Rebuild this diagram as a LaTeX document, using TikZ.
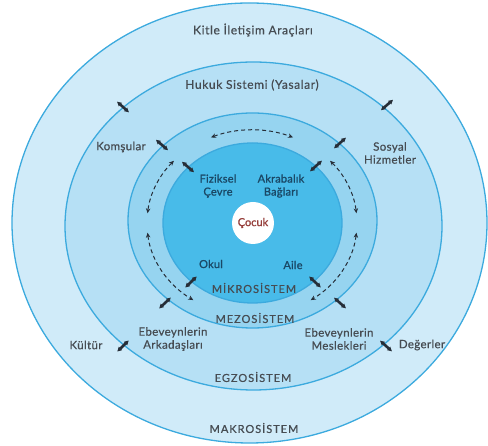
\documentclass[tikz,border=0pt]{standalone}
\usepackage{fontspec}
\setmainfont{Lato}
\usetikzlibrary{arrows.meta, calc}
\definecolor{makro}{RGB}{208, 235, 249}
\definecolor{egzo}{RGB}{182, 224, 245}
\definecolor{mezo}{RGB}{150, 212, 240}
\definecolor{mikro}{RGB}{72, 187, 233}
\definecolor{rim}{RGB}{60, 170, 222}
\definecolor{textgray}{RGB}{70, 76, 82}
\definecolor{textblue}{RGB}{26, 72, 102}
\definecolor{childred}{RGB}{150, 62, 58}
\definecolor{markdark}{RGB}{38, 46, 56}
\tikzstyle{ring}     = [draw=rim, line width=1.3pt]
\tikzstyle{outertxt} = [text=textgray, align=center, inner sep=0pt,
                        font=\fontsize{11.5}{13}\selectfont\addfontfeatures{LetterSpace=3, FakeBold=0.6}]
\tikzstyle{widetxt}  = [outertxt, font=\fontsize{12}{13}\selectfont\addfontfeatures{LetterSpace=5, FakeBold=0.6}]
\tikzstyle{innertxt} = [text=textblue, align=center, inner sep=0pt,
                        font=\fontsize{11}{13}\selectfont\addfontfeatures{LetterSpace=2, FakeBold=1.2}]
\tikzstyle{systxt}   = [text=textgray, inner sep=0pt,
                        font=\fontsize{11}{13}\selectfont\addfontfeatures{LetterSpace=9, FakeBold=0.6}]
\tikzstyle{bidir}    = [{Triangle[length=4.5pt, width=4.5pt]}-{Triangle[length=4.5pt, width=4.5pt]},
                        line width=2.6pt, draw=markdark]
\tikzstyle{dasharc}  = [{Stealth[length=5pt, width=4.5pt]}-{Stealth[length=5pt, width=4.5pt]},
                        dash pattern=on 4pt off 3pt, line width=1pt, draw=markdark]

\begin{document}
\begin{tikzpicture}[x=1pt, y=1pt]
  \useasboundingbox (-252,-223) rectangle (236,223);
  \coordinate (hub) at (0,0);

  % Systems, from outside in
  \draw [ring, fill=makro] (-2.5,0)  ellipse [x radius=237.5, y radius=220];
  \draw [ring, fill=egzo]  (1.5,-3)  ellipse [x radius=188.5, y radius=164];
  \draw [ring, fill=mezo]  (0.5,2.5) ellipse [x radius=124.5, y radius=107.5];
  \draw [ring, fill=mikro] (0.5,0)   ellipse [x radius=89.5,  y radius=80];
  \node (cocuk) [circle, fill=white, minimum size=42pt, inner sep=0pt, text=childred,
                 font=\fontsize{11}{13}\selectfont\addfontfeatures{FakeBold=1.2}] at (1,0) {Çocuk};

  % Labels
  \node (kitle) [widetxt] at (1,193)    {Kitle İletişim Araçları};
  \node (hukuk) [widetxt] at (0,138)    {Hukuk Sistemi (Yasalar)};
  \node (komsu) [outertxt] at (-131,76) {Komşular};
  \node (sosyal) [outertxt] at (138,70) {Sosyal\\Hizmetler};
  \node (fiz)   [innertxt] at (-34,37)  {Fiziksel\\Çevre};
  \node (akr)   [innertxt] at (29,37)   {Akrabalık\\Bağları};
  \node (okul)  [innertxt] at (-41,-41) {Okul};
  \node (aile)  [innertxt] at (41,-42)  {Aile};
  \node (ebark) [outertxt] at (-79,-116) {Ebeveynlerin\\Arkadaşları};
  \node (kultur) [outertxt] at (-166,-122) {Kültür};
  \node (ebmes) [outertxt] at (87,-116) {Ebeveynlerin\\Meslekleri};
  \node (deger) [outertxt] at (170,-122) {Değerler};

  \node (mikro) [systxt] at (2,-65)   {MİKROSİSTEM};
  \node (mezo)  [systxt] at (3,-95)   {MEZOSİSTEM};
  \node (egzo)  [systxt] at (1,-154)  {EGZOSİSTEM};
  \node (makro) [systxt] at (2,-205)  {MAKROSİSTEM};

  % Crossing marks
  \coordinate (eTL) at (-129,116);  \coordinate (eTR) at (135,118);
  \coordinate (zUL) at (-90,78);    \coordinate (zUR) at (88,80);
  \coordinate (mUL) at (-64,56);    \coordinate (mUR) at (64,57);
  \coordinate (mLL) at (-61,-59);   \coordinate (mLR) at (63,-59);
  \coordinate (zLL) at (-87,-80);   \coordinate (zLR) at (88,-80);
  \coordinate (eLL) at (-129,-123); \coordinate (eLR) at (134,-123);

  \draw [bidir] ($(eTL)+(138:8)$) -- ($(eTL)+(318:8)$);
  \draw [bidir] ($(eTR)+(41:8)$)  -- ($(eTR)+(221:8)$);
  \draw [bidir] ($(zUL)+(139:8)$) -- ($(zUL)+(319:8)$);
  \draw [bidir] ($(zUR)+(42:8)$)  -- ($(zUR)+(222:8)$);
  \draw [bidir] ($(mUL)+(139:8)$) -- ($(mUL)+(319:8)$);
  \draw [bidir] ($(mUR)+(42:8)$)  -- ($(mUR)+(222:8)$);
  \draw [bidir] ($(mLL)+(224:8)$) -- ($(mLL)+(44:8)$);
  \draw [bidir] ($(mLR)+(-43:8)$) -- ($(mLR)+(137:8)$);
  \draw [bidir] ($(zLL)+(223:8)$) -- ($(zLL)+(43:8)$);
  \draw [bidir] ($(zLR)+(-42:8)$) -- ($(zLR)+(138:8)$);
  \draw [bidir] ($(eLL)+(224:8)$) -- ($(eLL)+(44:8)$);
  \draw [bidir] ($(eLR)+(-42:8)$) -- ($(eLR)+(138:8)$);

  % Dashed links in the mesosystem
  \draw [dasharc] ($(hub)+(113:105 and 93)$) arc [start angle=113, end angle=67,  x radius=105, y radius=93];
  \draw [dasharc] ($(hub)+(138:105 and 93)$) arc [start angle=138, end angle=174, x radius=105, y radius=93];
  \draw [dasharc] ($(hub)+(186:105 and 93)$) arc [start angle=186, end angle=236, x radius=105, y radius=93];
  \draw [dasharc] ($(hub)+(42:105 and 93)$)  arc [start angle=42,  end angle=6,   x radius=105, y radius=93];
  \draw [dasharc] ($(hub)+(-6:105 and 93)$)  arc [start angle=-6,  end angle=-56, x radius=105, y radius=93];
\end{tikzpicture}
\end{document}
